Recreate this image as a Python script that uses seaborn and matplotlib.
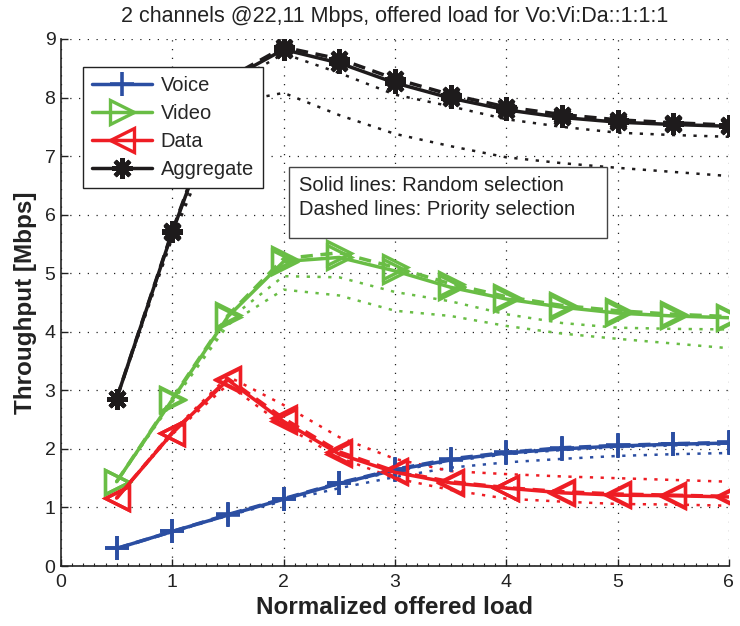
import matplotlib
matplotlib.use("Agg")
import matplotlib.pyplot as plt
from matplotlib.lines import Line2D
from matplotlib.patches import Rectangle
from matplotlib.ticker import MultipleLocator
import seaborn as sns
import pandas as pd

# Normalized offered load
load = [0.5, 1.0, 1.5, 2.0, 2.5, 3.0, 3.5, 4.0, 4.5, 5.0, 5.5, 6.0]

# Throughput [Mbps] - random selection (solid)
voice_rand = [0.30, 0.59, 0.87, 1.14, 1.41, 1.64, 1.81, 1.93, 2.00, 2.05, 2.08, 2.10]
video_rand = [1.44, 2.84, 4.26, 5.20, 5.27, 5.04, 4.76, 4.56, 4.42, 4.32, 4.27, 4.24]
data_rand = [1.16, 2.27, 3.18, 2.47, 1.91, 1.60, 1.42, 1.33, 1.25, 1.21, 1.20, 1.18]
agg_rand = [2.86, 5.70, 8.30, 8.82, 8.59, 8.25, 7.99, 7.79, 7.66, 7.58, 7.54, 7.51]

# Throughput [Mbps] - priority selection (dashed)
voice_prio = [0.30, 0.59, 0.88, 1.15, 1.42, 1.65, 1.83, 1.94, 2.02, 2.06, 2.09, 2.11]
video_prio = [1.44, 2.86, 4.28, 5.25, 5.35, 5.10, 4.82, 4.60, 4.45, 4.36, 4.30, 4.26]
data_prio = [1.16, 2.28, 3.20, 2.52, 1.95, 1.62, 1.44, 1.34, 1.27, 1.23, 1.21, 1.19]
agg_prio = [2.86, 5.72, 8.33, 8.86, 8.66, 8.32, 8.05, 7.84, 7.71, 7.62, 7.57, 7.53]

# Spread bounds (dotted)
voice_hi = [0.30, 0.59, 0.87, 1.13, 1.40, 1.62, 1.79, 1.91, 1.98, 2.03, 2.06, 2.08]
voice_lo = [0.30, 0.58, 0.86, 1.11, 1.33, 1.52, 1.68, 1.77, 1.83, 1.88, 1.91, 1.93]
video_hi = [1.44, 2.82, 4.20, 4.95, 4.93, 4.68, 4.52, 4.30, 4.15, 4.07, 4.05, 4.04]
video_lo = [1.44, 2.80, 4.12, 4.72, 4.62, 4.36, 4.27, 4.10, 3.97, 3.88, 3.80, 3.72]
data_hi = [1.16, 2.30, 3.24, 2.75, 2.20, 1.83, 1.62, 1.57, 1.53, 1.50, 1.47, 1.44]
data_lo = [1.16, 2.25, 3.10, 2.40, 1.85, 1.50, 1.30, 1.15, 1.10, 1.06, 1.05, 1.03]
agg_hi = [2.86, 5.65, 8.20, 8.75, 8.42, 8.05, 7.85, 7.63, 7.50, 7.40, 7.36, 7.33]
agg_lo = [2.86, 5.60, 7.90, 8.08, 7.70, 7.38, 7.17, 6.98, 6.88, 6.80, 6.73, 6.66]

series_names = ["Voice", "Video", "Data", "Aggregate"]
colors = {"Voice": "#2b4ea2", "Video": "#69bd45", "Data": "#ee1d24", "Aggregate": "#1e1b1c"}
markers = {"Voice": "+", "Video": ">", "Data": "<", "Aggregate": (8, 2, 0)}
msizes = {"Voice": 17, "Video": 17, "Data": 17, "Aggregate": 15}
medges = {"Voice": 2.6, "Video": 2.4, "Data": 2.4, "Aggregate": 3.0}

rand = {"Voice": voice_rand, "Video": video_rand, "Data": data_rand, "Aggregate": agg_rand}
prio = {"Voice": voice_prio, "Video": video_prio, "Data": data_prio, "Aggregate": agg_prio}
hi = {"Voice": voice_hi, "Video": video_hi, "Data": data_hi, "Aggregate": agg_hi}
lo = {"Voice": voice_lo, "Video": video_lo, "Data": data_lo, "Aggregate": agg_lo}

sns.set_theme(style="white")
plt.rcParams["font.family"] = ["Liberation Sans", "DejaVu Sans"]

fig = plt.figure(figsize=(7.4, 6.26), dpi=100)
ax = fig.add_axes([0.0824, 0.0958, 0.9026, 0.8419])

# dotted bounds
for name in series_names:
    for bound in (hi[name], lo[name]):
        df = pd.DataFrame({"load": load, "tp": bound})
        sns.lineplot(data=df, x="load", y="tp", ax=ax, color=colors[name],
                     linestyle=(0, (1.3, 3.0)), linewidth=1.8, sort=False,
                     estimator=None, legend=False, zorder=2)

# dashed: priority selection
for name in series_names:
    df = pd.DataFrame({"load": load, "tp": prio[name]})
    sns.lineplot(data=df, x="load", y="tp", ax=ax, color=colors[name],
                 linestyle=(0, (3.5, 2.2)), linewidth=2.5, marker=markers[name],
                 markersize=msizes[name], markeredgewidth=medges[name],
                 markerfacecolor="none", markeredgecolor=colors[name],
                 sort=False, estimator=None, legend=False, zorder=3)

# solid: random selection
for name in series_names:
    df = pd.DataFrame({"load": load, "tp": rand[name]})
    sns.lineplot(data=df, x="load", y="tp", ax=ax, color=colors[name],
                 linestyle="-", linewidth=2.5, marker=markers[name],
                 markersize=msizes[name], markeredgewidth=medges[name],
                 markerfacecolor="none", markeredgecolor=colors[name],
                 sort=False, estimator=None, legend=False, zorder=4)

ax.set_xlim(0, 6)
ax.set_ylim(0, 9)
ax.xaxis.set_major_locator(MultipleLocator(1))
ax.xaxis.set_minor_locator(MultipleLocator(0.1))
ax.yaxis.set_major_locator(MultipleLocator(1))

ax.grid(True, which="major", color="#222222", linestyle=(0, (1, 6)), linewidth=0.9)
ax.set_axisbelow(True)
for side in ("top", "right"):
    ax.spines[side].set_visible(False)
for side in ("left", "bottom"):
    ax.spines[side].set_color("#222222")
    ax.spines[side].set_linewidth(1.2)

ax.tick_params(axis="both", which="major", direction="in", length=5, width=1,
               color="#222222", labelsize=14, labelcolor="#222222",
               bottom=True, left=True, top=False, right=False, pad=4)
ax.tick_params(axis="x", which="major", pad=6)
ax.tick_params(axis="x", which="minor", direction="in", length=2.5, width=0.8,
               color="#222222", bottom=True, top=False)

ax.set_xlabel("Normalized offered load", fontsize=17.5, fontweight="bold",
              color="#222222", labelpad=3)
ax.set_ylabel("Throughput [Mbps]", fontsize=17.5, fontweight="bold",
              color="#222222", labelpad=5)
ax.set_title("2 channels @22,11 Mbps, offered load for Vo:Vi:Da::1:1:1",
             fontsize=15.5, color="#222222", pad=12)

handles = [Line2D([0], [0], color=colors[n], linewidth=2.5, marker=markers[n],
                  markersize=msizes[n], markeredgewidth=medges[n], markerfacecolor="none",
                  markeredgecolor=colors[n]) for n in series_names]
leg = ax.legend(handles, series_names, loc="upper left",
                bbox_to_anchor=(0.033, 0.947), borderaxespad=0, fontsize=14.5,
                frameon=True, fancybox=False, edgecolor="#222222", framealpha=1,
                facecolor="white", handlelength=3.0, handletextpad=0.4,
                labelspacing=0.45, borderpad=0.45)
leg.get_frame().set_linewidth(1.0)
leg.set_zorder(10)

# annotation box describing line styles
box = Rectangle((0.341, 0.622), 0.476, 0.135, transform=ax.transAxes,
                facecolor="white", edgecolor="#444444", linewidth=1.0, zorder=8)
ax.add_patch(box)
ax.text(0.357, 0.740, "Solid lines: Random selection\nDashed lines: Priority selection",
        transform=ax.transAxes, ha="left", va="top", fontsize=14.5,
        color="#222222", linespacing=1.3, zorder=9)

fig.savefig("out.png", dpi=100)
